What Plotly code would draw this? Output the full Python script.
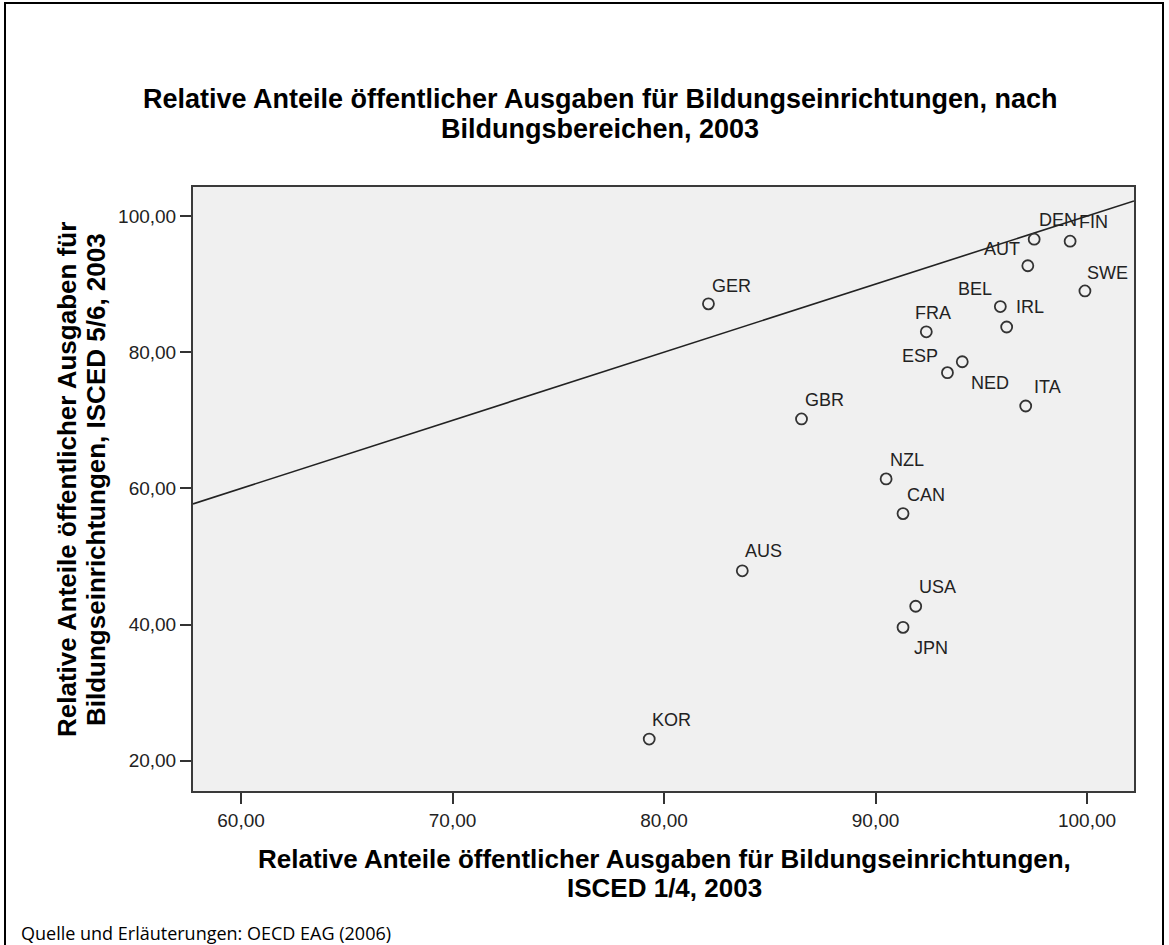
import plotly.graph_objects as go

# ---------------- data ----------------
countries = ["GER", "FRA", "BEL", "IRL", "ESP", "NED", "ITA", "AUT", "DEN",
             "FIN", "SWE", "GBR", "NZL", "CAN", "AUS", "USA", "JPN", "KOR"]
isced_14 = [82.1, 92.4, 95.9, 96.2, 93.4, 94.1, 97.1, 97.2, 97.5,
            99.2, 99.9, 86.5, 90.5, 91.3, 83.7, 91.9, 91.3, 79.3]
isced_56 = [87.1, 83.0, 86.7, 83.7, 77.0, 78.6, 72.1, 92.7, 96.6,
            96.3, 89.0, 70.2, 61.4, 56.3, 47.9, 42.7, 39.6, 23.2]

x_ticks = [60, 70, 80, 90, 100]
y_ticks = [20, 40, 60, 80, 100]

title_lines = ["Relative Anteile öffentlicher Ausgaben für Bildungseinrichtungen, nach",
               "Bildungsbereichen, 2003"]
xtitle_lines = ["Relative Anteile öffentlicher Ausgaben für Bildungseinrichtungen,",
                "ISCED 1/4, 2003"]
ytitle_lines = ["Relative Anteile öffentlicher Ausgaben für",
                "Bildungseinrichtungen, ISCED 5/6, 2003"]
source_text = "Quelle und Erläuterungen: OECD EAG (2006)"

# ---------------- label placement (style) ----------------
# anchor, dx (px, right +), dy (px, down +)
label_pos = {
    "GER": ("left", 3, -18), "FRA": ("left", -12, -19), "BEL": ("right", -7, -18),
    "IRL": ("left", 8, -20), "ESP": ("right", -8, -17), "NED": ("left", 8, 21),
    "ITA": ("left", 7, -19), "AUT": ("right", -7, -17), "DEN": ("left", 4, -19),
    "FIN": ("left", 8, -19), "SWE": ("left", 1, -18), "GBR": ("left", 2, -19),
    "NZL": ("left", 3, -19), "CAN": ("left", 3, -19), "AUS": ("left", 2, -20),
    "USA": ("left", 2, -19), "JPN": ("left", 10, 21), "KOR": ("left", 2, -19),
}

W, H = 1169, 945
PL, PR, PT, PB = 193, 1134, 187, 791  # plot area in px
x_range = [57.73, 102.22]
y_range = [15.57, 104.26]

FONT = "Liberation Sans, Arial, sans-serif"


def px2x(px):
    return (px - PL) / (PR - PL)


def px2y(py):
    return (PB - py) / (PB - PT)


fig = go.Figure()

# diagonal reference line (y = x) spanning the axis range
fig.add_trace(go.Scatter(
    x=x_range, y=x_range, mode="lines",
    line=dict(color="#222222", width=1.6), hoverinfo="skip", showlegend=False,
))

fig.add_trace(go.Scatter(
    x=isced_14, y=isced_56, mode="markers", text=countries,
    marker=dict(symbol="circle", size=11, color="rgba(0,0,0,0)",
                line=dict(color="#333333", width=1.8)),
    showlegend=False,
))

annotations = []
for name, xv, yv in zip(countries, isced_14, isced_56):
    anchor, dx, dy = label_pos[name]
    annotations.append(dict(
        x=xv, y=yv, xref="x", yref="y", text=name, showarrow=False,
        xanchor=anchor, yanchor="middle", xshift=dx, yshift=-dy,
        borderpad=0, font=dict(family=FONT, size=18, color="#222222"),
    ))

# main title
for line, py in zip(title_lines, [99, 129]):
    annotations.append(dict(
        x=px2x(600), y=px2y(py), xref="paper", yref="paper", text="<b>" + line + "</b>",
        showarrow=False, xanchor="center", yanchor="middle", borderpad=0,
        font=dict(family=FONT, size=27, color="#000000"),
    ))
# x axis title
for line, py in zip(xtitle_lines, [859, 888]):
    annotations.append(dict(
        x=px2x(664), y=px2y(py), xref="paper", yref="paper", text="<b>" + line + "</b>",
        showarrow=False, xanchor="center", yanchor="middle", borderpad=0,
        font=dict(family=FONT, size=26, color="#000000"),
    ))
# y axis title
for line, pxx in zip(ytitle_lines, [67, 96]):
    annotations.append(dict(
        x=px2x(pxx), y=px2y(480), xref="paper", yref="paper", text="<b>" + line + "</b>",
        showarrow=False, xanchor="center", yanchor="middle", textangle=-90, borderpad=0,
        font=dict(family=FONT, size=26, color="#000000"),
    ))
# source note
annotations.append(dict(
    x=px2x(20), y=px2y(933), xref="paper", yref="paper", text=source_text,
    showarrow=False, xanchor="left", yanchor="middle", borderpad=0,
    font=dict(family="Open Sans, Noto Sans, sans-serif", size=18, color="#000000"),
))

axis_common = dict(
    showgrid=False, zeroline=False, showline=True, linecolor="#3a3a3a", linewidth=2,
    mirror=True, ticks="outside", ticklen=11, tickwidth=2, tickcolor="#333333",
    tickformat=".2f", tickfont=dict(family=FONT, size=19, color="#222222"),
)

fig.update_layout(
    width=W, height=H, autosize=False,
    margin=dict(l=PL, r=W - PR, t=PT, b=H - PB, pad=0),
    paper_bgcolor="white", plot_bgcolor="#f0f0f0",
    separators=",.",
    xaxis=dict(range=x_range, tickvals=x_ticks, **axis_common),
    yaxis=dict(range=y_range, tickvals=y_ticks, **axis_common),
    annotations=annotations,
    shapes=[dict(type="rect", xref="paper", yref="paper",
                 x0=px2x(5), x1=px2x(1163), y0=px2y(950), y1=px2y(3),
                 line=dict(color="#000000", width=2), fillcolor="rgba(0,0,0,0)",
                 layer="below")],
)

fig.write_html(
    "out.html",
    config={"displayModeBar": False},
    post_script="document.body.style.margin='0px';document.body.style.overflow='hidden';",
)
